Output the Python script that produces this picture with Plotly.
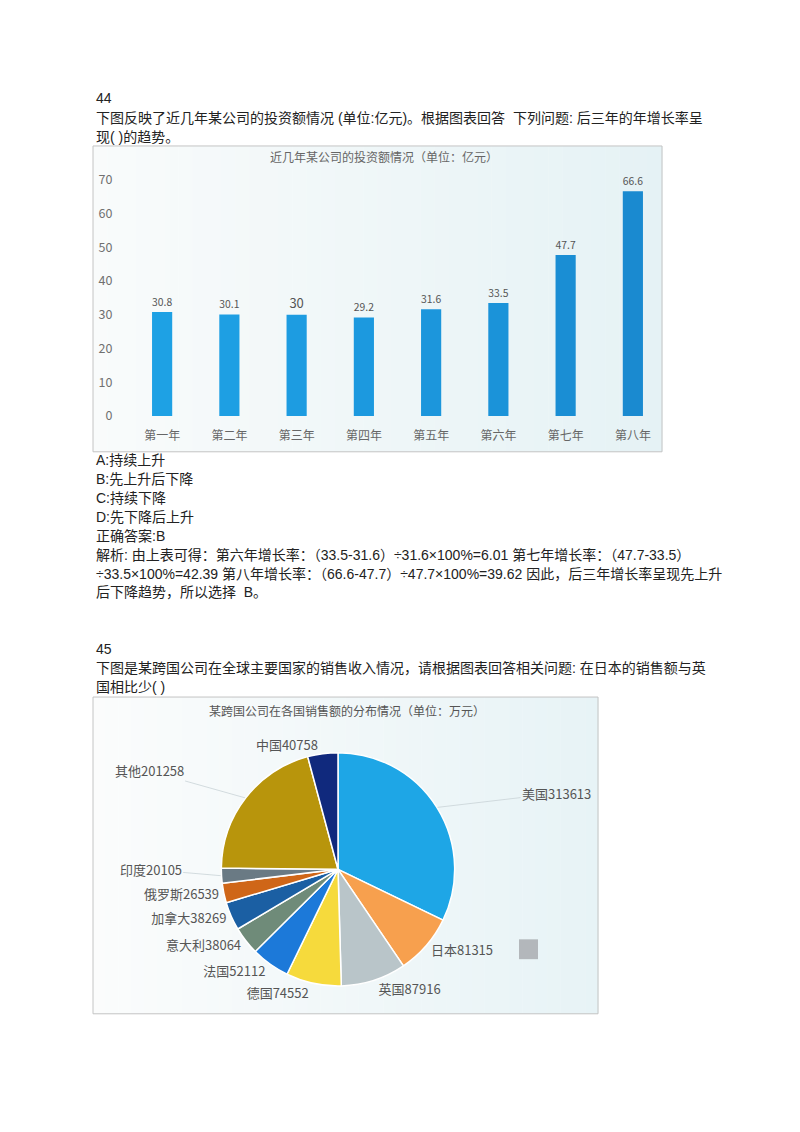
import math
import plotly.graph_objects as go

W, H = 800, 1132

# ---------------- data ----------------
years = ["第一年", "第二年", "第三年", "第四年", "第五年", "第六年", "第七年", "第八年"]
invest = [30.8, 30.1, 30, 29.2, 31.6, 33.5, 47.7, 66.6]
y_ticks = [0, 10, 20, 30, 40, 50, 60, 70]

countries = ["美国", "日本", "英国", "德国", "法国", "意大利", "加拿大", "俄罗斯", "印度", "其他", "中国"]
sales = [313613, 81315, 87916, 74552, 52112, 38064, 38269, 26539, 20105, 201258, 40758]

bar_title = "近几年某公司的投资额情况（单位：亿元）"
pie_title = "某跨国公司在各国销售额的分布情况（单位：万元）"

q44_lines = [
    "44",
    "下图反映了近几年某公司的投资额情况 (单位:亿元)。根据图表回答  下列问题: 后三年的年增长率呈",
    "现( )的趋势。",
]
q44_after = [
    "A:持续上升",
    "B:先上升后下降",
    "C:持续下降",
    "D:先下降后上升",
    "正确答案:B",
    "解析: 由上表可得：第六年增长率：（33.5-31.6）÷31.6×100%=6.01 第七年增长率：（47.7-33.5）",
    "÷33.5×100%=42.39 第八年增长率：（66.6-47.7）÷47.7×100%=39.62 因此，后三年增长率呈现先上升",
    "后下降趋势，所以选择  B。",
]
q45_lines = [
    "45",
    "下图是某跨国公司在全球主要国家的销售收入情况，请根据图表回答相关问题: 在日本的销售额与英",
    "国相比少( )",
]

# labels drawn with leader lines (name -> text offset in px from slice edge)
leader_offsets = {"美国": (119, -14), "其他": (-96, -27), "印度": (-70, -6)}

# ---------------- styles ----------------
FONT = "Noto Sans CJK SC"
BODY_FONT = "Liberation Sans, Noto Sans CJK SC"
bar_colors = ["#1ea1e4", "#1e9fe3", "#1d9ce1", "#1c99df", "#1c96dc", "#1b93d9", "#1a8ed4", "#1a8ad0"]
pie_colors = ["#1ea6e6", "#f7a04e", "#b9c5c9", "#f6da3c", "#1c79d9", "#6f8b79",
              "#1b5fa3", "#cf6618", "#6a7a84", "#b8950c", "#10297d"]


def px(x):
    return x / W


def py(y):
    return 1 - y / H


# pie geometry (pixels)
PIE_CX, PIE_CY, PIE_R = 338, 875.5, 117.5

fig = go.Figure()

fig.add_trace(go.Bar(
    x=years, y=invest,
    marker=dict(color=bar_colors, line=dict(width=0)),
    text=[str(v) for v in invest],
    textposition="outside",
    textfont=dict(family=FONT, size=13, color="#555555"),
    cliponaxis=False,
    xaxis="x", yaxis="y",
    showlegend=False,
    hoverinfo="skip",
))

pie_text = ["" if c in leader_offsets else f"{c}{v}" for c, v in zip(countries, sales)]
fig.add_trace(go.Pie(
    labels=countries, values=sales,
    sort=False, direction="clockwise", rotation=0,
    marker=dict(colors=pie_colors, line=dict(color="white", width=1.5)),
    text=pie_text, textinfo="text",
    textposition="outside",
    textfont=dict(family=FONT, size=13, color="#555555"),
    domain=dict(x=[px(PIE_CX - PIE_R), px(PIE_CX + PIE_R)],
                y=[py(PIE_CY + PIE_R), py(PIE_CY - PIE_R)]),
    showlegend=False,
    hoverinfo="skip",
))

shapes = []


def gradient_box(x0, y0, x1, y1, c0, c1, n=40):
    for i in range(n):
        t = i / (n - 1)
        c = tuple(int(round(c0[k] + (c1[k] - c0[k]) * t)) for k in range(3))
        xa = x0 + (x1 - x0) * i / n
        xb = x0 + (x1 - x0) * (i + 1) / n
        shapes.append(dict(type="rect", xref="paper", yref="paper",
                           x0=px(xa), x1=px(xb) + 0.0005, y0=py(y1), y1=py(y0),
                           fillcolor="rgb(%d,%d,%d)" % c, line=dict(width=0), layer="below"))
    shapes.append(dict(type="rect", xref="paper", yref="paper",
                       x0=px(x0), x1=px(x1), y0=py(y1), y1=py(y0),
                       fillcolor="rgba(0,0,0,0)", line=dict(color="#c4c4c4", width=1), layer="above"))


gradient_box(93, 147, 662, 455, (249, 251, 251), (229, 242, 245))
gradient_box(93, 702, 598, 1021, (251, 252, 252), (231, 243, 246))

# grey legend square near 日本
shapes.append(dict(type="rect", xref="paper", yref="paper",
                   x0=px(519), x1=px(538), y0=py(966), y1=py(946),
                   fillcolor="#b3b7bb", line=dict(width=0), layer="above"))

annotations = []


def text_line(s, x, y, size=14, color="#222222", anchor="left", family=BODY_FONT):
    annotations.append(dict(text=s, x=px(x), y=py(y), xref="paper", yref="paper",
                            xanchor=anchor, yanchor="middle", showarrow=False, borderpad=0,
                            font=dict(family=family, size=size, color=color)))


text_line(q44_lines[0], 95, 99)
text_line(q44_lines[1], 95, 118.5)
text_line(q44_lines[2], 95, 137.5)
for i, s in enumerate(q44_after):
    text_line(s, 95, 463 + i * 19.1)
text_line(q45_lines[0], 95, 654)
text_line(q45_lines[1], 95, 673)
text_line(q45_lines[2], 95, 692)

text_line(bar_title, 384, 158, size=12, color="#666666", anchor="center", family=FONT)
text_line(pie_title, 347, 716, size=12, color="#555555", anchor="center", family=FONT)

# leader-line labels computed from the slice mid angles
total = float(sum(sales))
cum = 0.0
for c, v in zip(countries, sales):
    mid = (cum + v / 2.0) / total * 2 * math.pi
    cum += v
    if c not in leader_offsets:
        continue
    ex = PIE_CX + PIE_R * math.sin(mid)
    ey = PIE_CY - PIE_R * math.cos(mid)
    ax, ay = leader_offsets[c]
    annotations.append(dict(text=f"{c}{v}", x=px(ex), y=py(ey), xref="paper", yref="paper",
                            showarrow=True, arrowhead=0, arrowwidth=0.8, arrowcolor="#c9d3d7",
                            ax=ax, ay=ay, standoff=0,
                            font=dict(family=FONT, size=13, color="#555555")))

fig.update_layout(
    width=W, height=H,
    margin=dict(l=0, r=0, t=0, b=0),
    paper_bgcolor="white", plot_bgcolor="rgba(0,0,0,0)",
    font=dict(family=FONT),
    bargap=0.7,
    xaxis=dict(domain=[px(128.5), px(666.5)], range=[-0.5, 7.5],
               showgrid=False, showline=False, zeroline=False, ticks="",
               tickfont=dict(family=FONT, size=12, color="#666666"),
               ticklabelstandoff=11, fixedrange=True),
    yaxis=dict(domain=[py(419), py(164)], range=[0, 75],
               tickvals=y_ticks, showgrid=False, showline=False, zeroline=False, ticks="",
               tickfont=dict(family=FONT, size=12.5, color="#707070"),
               ticklabelstandoff=15, fixedrange=True),
    shapes=shapes,
    annotations=annotations,
)

fig.write_html("out.html", config={"displayModeBar": False},
               post_script="document.body.style.margin='0';document.body.style.overflow='hidden';")
